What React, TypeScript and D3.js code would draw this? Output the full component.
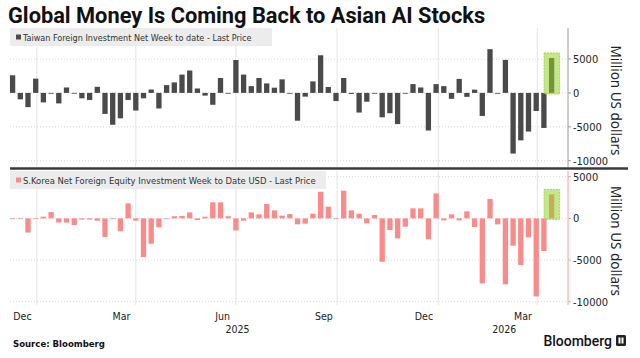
import React from "react";
import * as d3 from "d3";

const title = "Global Money Is Coming Back to Asian AI Stocks";
const legendTop = "Taiwan Foreign Investment Net Week to date - Last Price";
const legendBottom = "S.Korea Net Foreign Equity Investment Week to Date USD - Last Price";
const axisTitle = "Million US dollars";
const source = "Source: Bloomberg";

// weekly categories: weeks ending Friday, 13 Dec 2024 .. 17 Apr 2026
const weeks: Date[] = d3.timeFriday.range(new Date(2024, 11, 13), new Date(2026, 3, 18));

const taiwan = [
  2600, -950, -2100, 2100, -1400, 0, -1550, 800, 0, -800,
  -1050, 900, -3100, -4700, -3750, -1050, -2600, -800, 500, -2300,
  1150, 1550, 2700, 3300, 650, -400, -1750, 2200, -100, 4850,
  2700, 1000, 2200, 1400, 770, 2000, -100, -4100, -550, 1700,
  5550, 870, -1200, 2200, -150, -2900, -1300, -100, -3600, -3000,
  -4600, 0, 1300, 800, -5550, 1300, 1000, -870, 2070, -580,
  480, -3400, 6450, 0, 4870, -8950, -7000, -5700, -2670, -5170,
  5150,
];

const korea = [
  -100, -100, -1700, -50, 200, 750, -500, -500, -800, -150,
  -150, -280, -2250, -100, -1550, 1800, -280, -4650, -3050, -1080,
  -50, 250, 280, 720, -200, 200, 1920, 1920, 250, -1450,
  -280, 720, 480, 1720, 960, 320, 520, -720, -640, 560,
  3200, 1400, -80, 3320, 960, 560, -600, 400, -5200, -1400,
  -2400, -1000, 1200, 1200, -2520, 3000, -240, 480, -240, 840,
  -1040, -7800, 2320, -720, -7920, -3280, -5600, -2280, -9360, -3920,
  2880,
];

const yTicks = [5000, 0, -5000, -10000];
const monthLabels = [
  { label: "Dec", date: new Date(2024, 11, 1) },
  { label: "Mar", date: new Date(2025, 2, 1) },
  { label: "Jun", date: new Date(2025, 5, 1) },
  { label: "Sep", date: new Date(2025, 8, 1) },
  { label: "Dec", date: new Date(2025, 11, 1) },
  { label: "Mar", date: new Date(2026, 2, 1) },
];
const yearLabels = [
  { label: "2025", start: new Date(2025, 0, 1), end: new Date(2026, 0, 1) },
  { label: "2026", start: new Date(2026, 0, 1), end: new Date(2027, 0, 1) },
];
const gridDates = [
  new Date(2025, 0, 1), new Date(2025, 3, 1), new Date(2025, 6, 1),
  new Date(2025, 9, 1), new Date(2026, 0, 1), new Date(2026, 3, 1),
];

const W = 640;
const H = 358;
const plotLeft = 10;
const axisX = 568;

const x = d3.scaleTime()
  .domain([new Date(2025, 0, 1), new Date(2026, 0, 1)])
  .range([36.8, 438.3]);
const center = (d: Date) => x(d3.timeDay.offset(d, -3));
const barW = 5.3;

const yTop = d3.scaleLinear().domain([-10000, 5000]).range([160.7, 59]);
const yBot = d3.scaleLinear().domain([-10000, 5000]).range([301.7, 176.7]);

const tickFont = "'DejaVu Sans Condensed', 'Liberation Sans Narrow', 'Noto Sans', sans-serif";

function Panel({ values, y, color, axisColor, top, bottom, legend, legendW, legendSize, hiFill }: any) {
  const last = values.length - 1;
  const lastX = center(weeks[last]);
  return (
    <g>
      {gridDates.map((g, i) => (
        <line key={"v" + i} x1={x(g)} x2={x(g)} y1={top} y2={bottom} stroke="#e4e4e4" strokeWidth={1} />
      ))}
      {yTicks.map((t) => (
        <line key={"h" + t} x1={plotLeft} x2={axisX} y1={y(t)} y2={y(t)} stroke="#d6d6d6" strokeWidth={1} strokeDasharray="1,2" />
      ))}
      <rect x={plotLeft} y={top} width={legendW} height={18} fill="#ececec" />
      <rect x={16} y={top + 6.5} width={5} height={5} fill={color} />
      <text x={23} y={top + 12.5} fontFamily={tickFont} fontSize={legendSize} fill="#333">{legend}</text>
      {values.map((v: number, i: number) => (
        <rect key={i} x={center(weeks[i]) - barW / 2} y={Math.min(y(v), y(0))}
          width={barW} height={Math.max(Math.abs(y(v) - y(0)), 0.8)} fill={color} />
      ))}
      <rect x={lastX - 7.5} y={y(values[last]) - 5} width={15.5} height={y(0) - y(values[last]) + 6}
        fill={hiFill} stroke="#a8d84a" strokeWidth={1} strokeDasharray="2,1" />
      <line x1={axisX} x2={axisX} y1={top} y2={bottom} stroke={axisColor} strokeWidth={1} />
      {yTicks.map((t) => (
        <g key={"t" + t}>
          <line x1={axisX} x2={axisX + 3} y1={y(t)} y2={y(t)} stroke={axisColor} />
          <text x={axisX + 5} y={y(t) + 4} fontFamily={tickFont} fontSize={11} fill="#222">{t}</text>
        </g>
      ))}
      <text transform={`translate(611, ${(top + bottom) / 2 + 3}) rotate(90)`} textAnchor="middle"
        fontFamily="'Noto Sans', sans-serif" fontSize={13.5} fill="#222">{axisTitle}</text>
    </g>
  );
}

export default function App() {
  const xEnd = 570;
  return (
    <svg width={W} height={H} style={{ position: "absolute", left: 0, top: 0, background: "#fff" }}>
      <rect width={W} height={H} fill="#fff" />
      <text x={8} y={23} fontFamily="Roboto, 'Noto Sans', sans-serif" fontWeight={700} fontSize={21.8} fill="#111">{title}</text>
      <Panel values={taiwan} y={yTop} color="#4a4a4a" axisColor="#9a9a9a" top={28} bottom={167}
        legend={legendTop} legendW={262} legendSize={9} hiFill="rgba(150,210,40,0.55)" />
      <line x1={plotLeft} x2={628} y1={168.5} y2={168.5} stroke="#3a3a3a" strokeWidth={2.5} />
      <Panel values={korea} y={yBot} color="#f98b8b" axisColor="#f4a0a0" top={171} bottom={305}
        legend={legendBottom} legendW={316} legendSize={9.4} hiFill="rgba(150,210,40,0.55)" />
      {monthLabels.map((m, i) => (
        <text key={"m" + i} x={x(d3.timeDay.offset(m.date, 18))} y={320} textAnchor="middle"
          fontFamily={tickFont} fontSize={10.5} fill="#222">{m.label}</text>
      ))}
      {yearLabels.map((yl, i) => {
        const a = Math.max(x(yl.start), plotLeft);
        const b = Math.min(x(yl.end), xEnd);
        return (
          <text key={"y" + i} x={(a + b) / 2} y={333} textAnchor="middle"
            fontFamily={tickFont} fontSize={10.5} fill="#222">{yl.label}</text>
        );
      })}
      <text x={13} y={347} fontFamily={tickFont} fontWeight={700} fontSize={9.5} fill="#111">{source}</text>
      <text x={612} y={346} textAnchor="end" fontFamily="Roboto, 'Noto Sans', sans-serif" fontWeight={500} fontSize={14} fill="#111">Bloomberg</text>
      <rect x={616} y={335} width={10} height={11} rx={1.5} fill="#222" />
      <rect x={618.5} y={337.5} width={2} height={6} fill="#fff" />
      <rect x={621.5} y={337.5} width={2} height={6} fill="#fff" />
    </svg>
  );
}
